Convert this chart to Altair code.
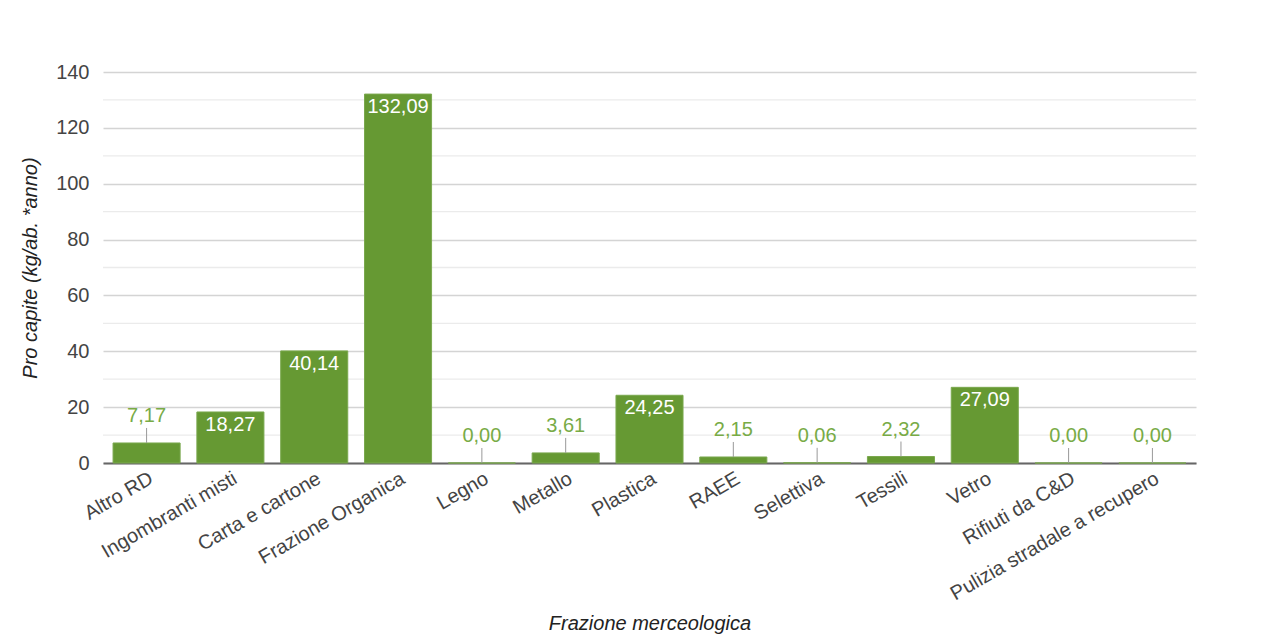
import altair as alt
import pandas as pd

categories = ["Altro RD", "Ingombranti misti", "Carta e cartone", "Frazione Organica",
              "Legno", "Metallo", "Plastica", "RAEE", "Selettiva", "Tessili", "Vetro",
              "Rifiuti da C&D", "Pulizia stradale a recupero"]
values = [7.17, 18.27, 40.14, 132.09, 0.00, 3.61, 24.25, 2.15, 0.06, 2.32, 27.09, 0.00, 0.00]
major_ticks = [0, 20, 40, 60, 80, 100, 120, 140]
minor_ticks = [10, 30, 50, 70, 90, 110, 130]

df = pd.DataFrame({"cat": categories, "val": values})
minor_df = pd.DataFrame({"val": minor_ticks})

BAR = "#669933"
FONT = "Liberation Sans"

x = alt.X("cat:N", sort=categories,
          scale=alt.Scale(paddingInner=0.2, paddingOuter=0.12),
          axis=alt.Axis(title="Frazione merceologica", labelAngle=-30, labelAlign="right",
                        labelBaseline="top", labelPadding=5, labelFontSize=20,
                        labelColor="#444444", ticks=False, domainColor="#666666",
                        domainWidth=2, titleFontSize=20, titleFontStyle="italic",
                        titleFontWeight="normal", titleColor="#222222",
                        titleX=546.5, titleY=166, titleBaseline="alphabetic",
                        titleAlign="center", labelLimit=400))

y = alt.Y("val:Q", scale=alt.Scale(domain=[0, 140], nice=False),
          axis=alt.Axis(title="Pro capite (kg/ab. *anno)", values=major_ticks,
                        ticks=False, domain=False, labelFontSize=20, labelColor="#444444",
                        labelPadding=14, gridColor="#d4d4d4", gridWidth=1.3,
                        titleFontSize=20, titleFontStyle="italic", titleFontWeight="normal",
                        titleColor="#222222", titleX=-67, titleY=195.5,
                        titleBaseline="alphabetic", titleAlign="center"))

minor = alt.Chart(minor_df).mark_rule(color="#ebebeb", strokeWidth=1.3).encode(
    y=alt.Y("val:Q")
)

base = alt.Chart(df).transform_calculate(
    lbl="replace(format(datum.val, '.2f'), '.', ',')"
)

bars = base.mark_bar(color=BAR, stroke="#7aa84e", strokeWidth=1).encode(x=x, y=y)

inside = base.transform_filter("datum.val >= 10").mark_text(
    color="white", fontSize=20, baseline="top", dy=3, font=FONT
).encode(x=alt.X("cat:N", sort=categories), y="val:Q", text="lbl:N")

outside = base.transform_filter("datum.val < 10").mark_text(
    color="#78ab46", fontSize=20, baseline="alphabetic", dy=-21, font=FONT
).encode(x=alt.X("cat:N", sort=categories), y="val:Q", text="lbl:N")

leaders = base.transform_filter("datum.val < 10").mark_rule(
    color="#999999", strokeWidth=1, yOffset=-15, y2Offset=0
).encode(x=alt.X("cat:N", sort=categories), y="val:Q", y2="val:Q")

chart = alt.layer(minor, bars, leaders, inside, outside).properties(
    width=1093, height=391,
    padding={"left": 95, "top": 64, "right": 70, "bottom": 175},
    autosize=alt.AutoSizeParams(type="none"),
).configure(font=FONT).configure_view(stroke=None)

chart.save("out.html", embed_options={"renderer": "svg", "actions": False})
